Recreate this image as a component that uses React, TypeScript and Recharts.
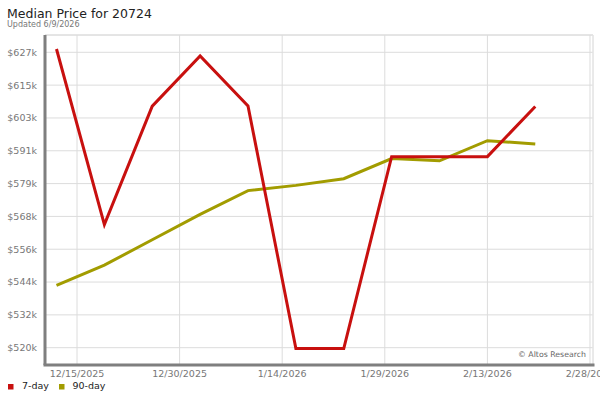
import React from 'react';
import { LineChart, Line, XAxis, YAxis, CartesianGrid, ReferenceLine } from 'recharts';

const dates = ['2025-12-12', '2025-12-19', '2025-12-26', '2026-01-02', '2026-01-09', '2026-01-16', '2026-01-23', '2026-01-30', '2026-02-06', '2026-02-13', '2026-02-20'];
const sevenDay = [628.2, 564.6, 607.5, 625.7, 607.6, 519.7, 519.7, 589.2, 589.2, 589.2, 607.4];
const ninetyDay = [542.6, 549.9, 559.1, 568.3, 576.9, 578.8, 581.2, 588.5, 587.7, 595.0, 593.8];
const xTickDates = ['2025-12-15', '2025-12-30', '2026-01-14', '2026-01-29', '2026-02-13', '2026-02-28'];
const yTicks = [520, 531.89, 543.78, 555.67, 567.56, 579.44, 591.33, 603.22, 615.11, 627];

const DAY = 86400000;
const toDay = (s: string) => {
  const [y, m, d] = s.split('-').map(Number);
  return Date.UTC(y, m - 1, d) / DAY;
};

const data = dates.map((d, i) => ({ t: toDay(d), sevenDay: sevenDay[i], ninetyDay: ninetyDay[i] }));
const xTicks = xTickDates.map(toDay);
const xDomain: [number, number] = [xTicks[0] - 4.68, xTicks[xTicks.length - 1] + 0.44];
const yDomain: [number, number] = [513.73, 633.27];

const fmtDate = (v: number) => {
  const dt = new Date(v * DAY);
  return `${dt.getUTCMonth() + 1}/${dt.getUTCDate()}/${dt.getUTCFullYear()}`;
};
const fmtPrice = (v: number) => `$${Math.round(v)}k`;

const FONT = '"DejaVu Sans", Verdana, sans-serif';
const RED = '#c8100f';
const OLIVE = '#a29c00';

export default function App() {
  return (
    <div style={{ position: 'absolute', left: 0, top: 0, width: 600, height: 400, background: '#fff', fontFamily: FONT }}>
      <LineChart width={600} height={400} data={data} margin={{ top: 35, right: 7, left: 0, bottom: 0 }}>
        <CartesianGrid stroke="#dcdcdc" strokeWidth={1} />
        <ReferenceLine y={yDomain[1]} stroke="#dcdcdc" strokeWidth={1} />
        <ReferenceLine x={xDomain[1]} stroke="#e6e6e6" strokeWidth={1} />
        <XAxis
          dataKey="t"
          type="number"
          domain={xDomain}
          ticks={xTicks}
          interval={0}
          allowDataOverflow
          tickFormatter={fmtDate}
          height={35}
          tickLine={false}
          tickSize={0}
          tickMargin={5}
          axisLine={{ stroke: '#7f7f7f', strokeWidth: 3, strokeLinecap: 'square' }}
          tick={{ fill: '#777', fontSize: 9.5, fontFamily: FONT }}
        />
        <YAxis
          type="number"
          domain={yDomain}
          ticks={yTicks}
          interval={0}
          allowDataOverflow
          tickFormatter={fmtPrice}
          width={45}
          tickLine={false}
          axisLine={{ stroke: '#7f7f7f', strokeWidth: 3 }}
          tick={{ fill: '#777', fontSize: 9.5, fontFamily: FONT }}
        />
        <Line type="linear" dataKey="ninetyDay" stroke={OLIVE} strokeWidth={3} dot={false} isAnimationActive={false} />
        <Line type="linear" dataKey="sevenDay" stroke={RED} strokeWidth={3} dot={false} isAnimationActive={false} />
      </LineChart>
      <svg width={600} height={400} style={{ position: 'absolute', left: 0, top: 0, pointerEvents: 'none' }}>
        <text x={7} y={18} fontSize={12.5} fill="#222" fontFamily={FONT}>Median Price for 20724</text>
        <text x={7} y={26.5} fontSize={8} fill="#777" fontFamily={FONT}>Updated 6/9/2026</text>
        <text x={586} y={357} fontSize={7.8} fill="#666" fontFamily={FONT} textAnchor="end">© Altos Research</text>
        <rect x={8} y={384} width={5.5} height={5.5} fill={RED} />
        <text x={22} y={389} fontSize={9.5} fill="#222" fontFamily={FONT}>7-day</text>
        <rect x={59} y={384} width={5.5} height={5.5} fill={OLIVE} />
        <text x={72.5} y={389} fontSize={9.5} fill="#222" fontFamily={FONT}>90-day</text>
      </svg>
    </div>
  );
}
